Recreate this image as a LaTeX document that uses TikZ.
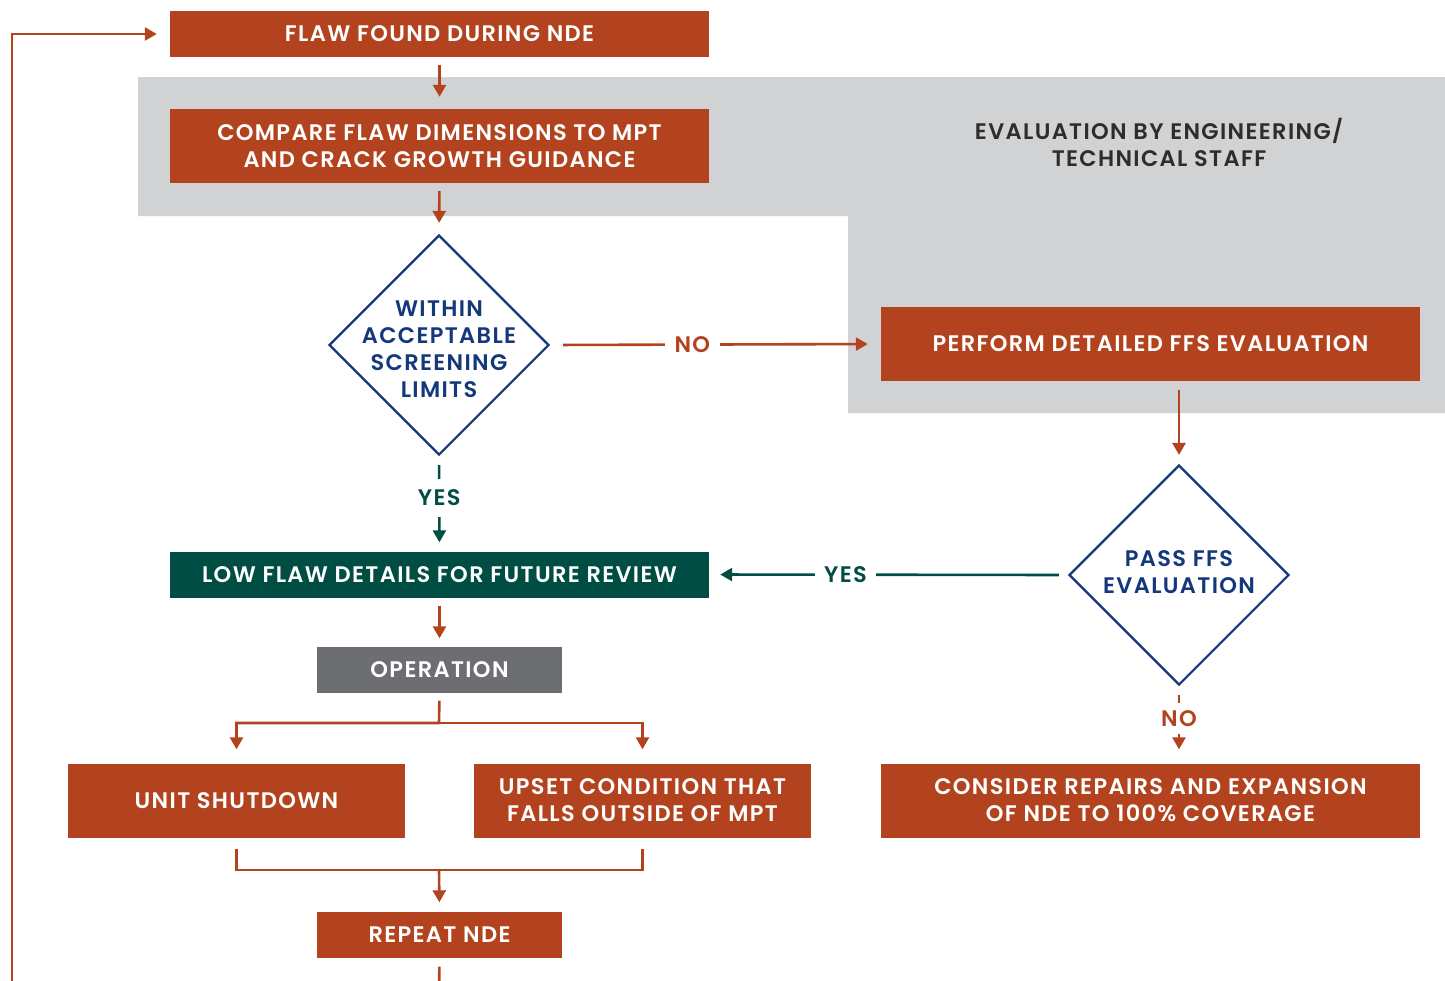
\documentclass[tikz,border=0pt]{standalone}
\usepackage{fontspec}
\usetikzlibrary{arrows.meta,shapes.geometric}
\newfontfamily\boxfont{Poppins SemiBold}[LetterSpace=6]
\definecolor{rust}{HTML}{B2431E}
\definecolor{pine}{HTML}{004D43}
\definecolor{panel}{HTML}{D1D2D4}
\definecolor{opgray}{HTML}{6D6E71}
\definecolor{navy}{HTML}{15377B}
\definecolor{inkgray}{HTML}{2D2D2D}
\tikzset{
  txt/.style={font=\boxfont\fontsize{22.5}{27}\selectfont, align=center},
  box/.style={txt, fill=rust, text=white, inner sep=0pt, minimum width=539pt, minimum height=74pt},
  thinbox/.style={box, minimum height=46pt},
  smallbox/.style={box, minimum width=245pt, minimum height=46pt},
  midbox/.style={box, minimum width=337pt, minimum height=74pt},
  dshape/.style={diamond, draw=navy, line width=2.2pt, minimum width=220pt, minimum height=220pt, inner sep=0pt},
  dtext/.style={txt, text=navy},
  ln/.style={draw=rust, line width=2.6pt},
  arr/.style={ln, -{Triangle[length=12pt,width=13pt]}},
  garr/.style={arr, draw=pine, fill=pine},
  rlab/.style={txt, text=rust, fill=white, inner xsep=10pt, inner ysep=7pt},
  glab/.style={txt, text=pine, fill=white, inner xsep=9pt, inner ysep=7pt},
}
\begin{document}
\begin{tikzpicture}[x=1pt,y=-1pt]
\useasboundingbox (0,0) rectangle (1445,980);
% gray panel
\fill[panel] (138,77) -- (1445,77) -- (1445,413) -- (848,413) -- (848,216) -- (138,216) -- cycle;
\node[txt, text=inkgray] (evaltxt) at (1159,142) {EVALUATION BY ENGINEERING/\\TECHNICAL STAFF};
% nodes
\node[thinbox] (flaw) at (439.5,34) {FLAW FOUND DURING NDE};
\node[box] (cmp) at (439.5,146) {COMPARE FLAW DIMENSIONS TO MPT\\AND CRACK GROWTH GUIDANCE};
\node[dshape] (d1) at (439,345) {};
\node[dtext] (d1t) at (439,349) {WITHIN\\ACCEPTABLE\\SCREENING\\LIMITS};
\node[box] (ffs) at (1150.5,344) {PERFORM DETAILED FFS EVALUATION};
\node[dshape] (d2) at (1179,575) {};
\node[dtext] (d2t) at (1179,572.5) {PASS FFS\\EVALUATION};
\node[thinbox, fill=pine] (low) at (439.5,574.5) {LOW FLAW DETAILS FOR FUTURE REVIEW};
\node[smallbox, fill=opgray] (op) at (439.5,669.5) {OPERATION};
\node[midbox] (unit) at (236.5,800.5) {UNIT SHUTDOWN};
\node[midbox] (ups) at (642.5,800.5) {UPSET CONDITION THAT\\FALLS OUTSIDE OF MPT};
\node[box] (rep2) at (1150.5,800.5) {CONSIDER REPAIRS AND EXPANSION\\OF NDE TO 100\% COVERAGE};
\node[smallbox] (rep) at (439.5,934.5) {REPEAT NDE};
% coordinates
\coordinate (split) at (439,723);
\coordinate (merge) at (439,870);
\coordinate (loopB) at (439,995);
\coordinate (loopL) at (12,995);
% connectors
\draw[arr, shorten <=8pt, shorten >=12pt] (flaw.south) -- (cmp.north);
\draw[arr, shorten <=8pt, shorten >=11pt] (cmp.south) -- (d1.north);
\draw[arr, shorten <=13pt, shorten >=13pt] (d1.east) -- node[rlab, pos=0.43] (no1) {NO} (ffs.west);
\draw[garr, shorten <=9pt, shorten >=9pt] (d1.south) -- node[glab, pos=0.44, inner ysep=11pt] (yes1) {YES} (low.north);
\draw[arr, shorten <=9pt, shorten >=9pt] (ffs.south -| d2.north) -- (d2.north);
\draw[garr, shorten <=9pt, shorten >=11pt] (d2.west) -- node[glab, pos=0.62] (yes2) {YES} (low.east);
\draw[arr, shorten <=9pt, shorten >=14pt] (d2.south) -- node[rlab, pos=0.42] (no2) {NO} (d2.south |- rep2.north);
\draw[arr, shorten <=8pt, shorten >=8pt] (low.south) -- (op.north);
\draw[arr, shorten <=8pt, shorten >=14pt] (op.south) -- (split) -| (unit.north);
\draw[arr, shorten >=14pt] (split) -| (ups.north);
\draw[ln, shorten <=11pt, shorten >=11pt] (unit.south) |- (merge) -| (ups.south);
\draw[arr, shorten >=9pt] (merge) -- (rep.north);
\draw[ln, shorten <=9pt] (rep.south) -- (loopB);
\draw[arr, shorten >=13pt] (loopL) |- (flaw.west);
\end{tikzpicture}
\end{document}
